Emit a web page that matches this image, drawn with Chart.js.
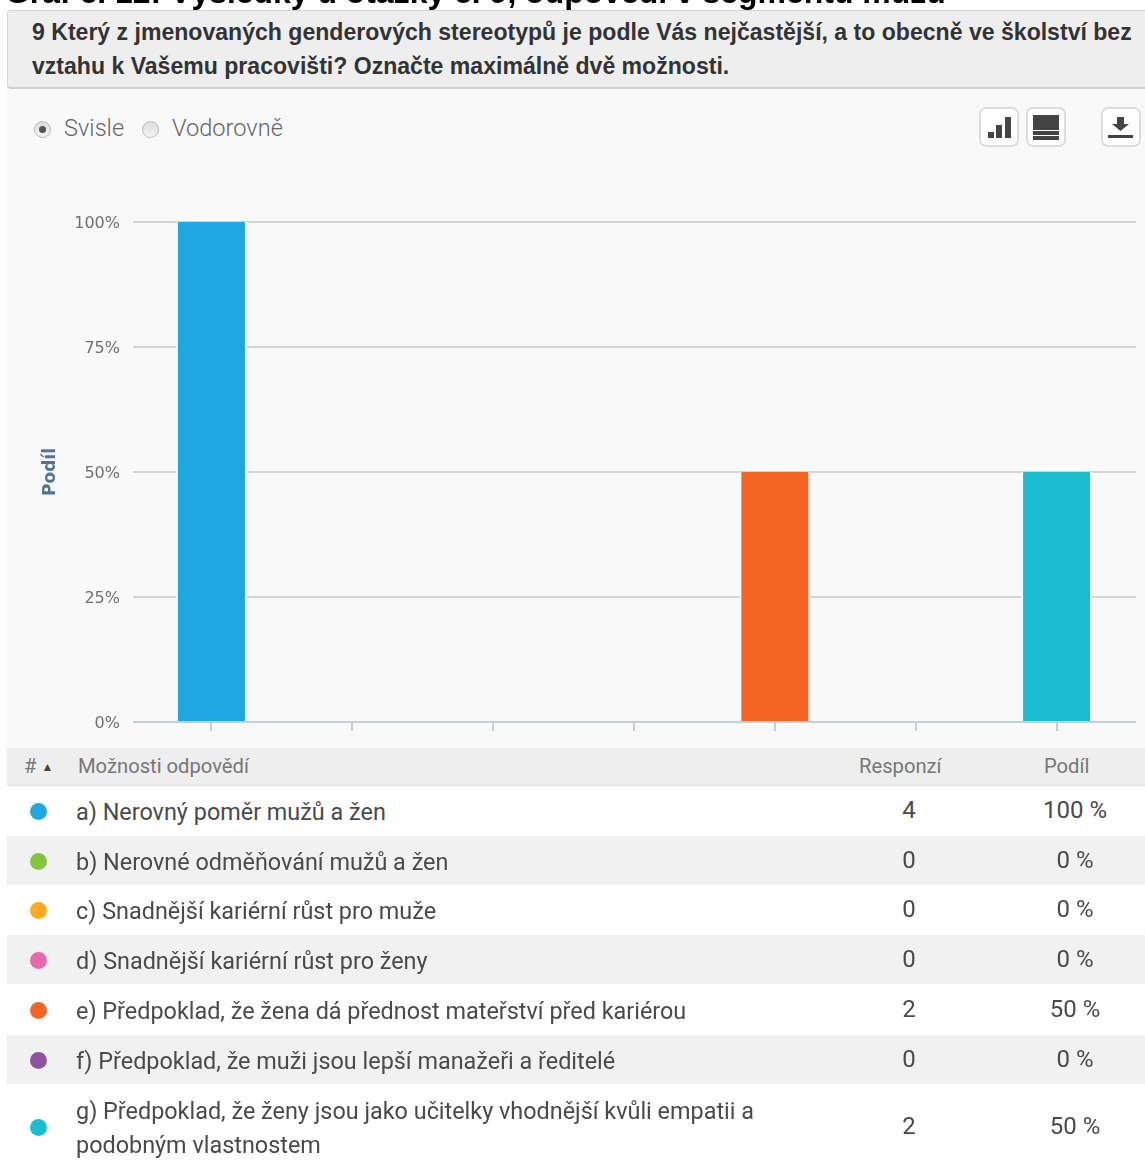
<!DOCTYPE html>
<html>
<head>
<meta charset="utf-8">
<script src="https://cdn.jsdelivr.net/npm/chart.js@4/dist/chart.umd.min.js"></script>
<style>
html, body { margin: 0; padding: 0; background: #fff; }
body { width: 1145px; height: 1160px; overflow: hidden; position: relative; font-family: Roboto, sans-serif; color: #444; }
#page { position: absolute; left: 0; top: 0; width: 1145px; height: 1160px; overflow: hidden; filter: blur(0.4px); }
.abs { position: absolute; white-space: nowrap; }
#pageTitle { left: 5px; top: -26px; font: bold 31.95px "Liberation Sans", sans-serif; color: #000; }
#questionBox { left: 7px; top: 10px; width: 1138px; height: 79px; box-sizing: border-box; background: #eee; border: 1px solid #d5d5d5; border-right: 0; border-bottom: 2px solid #d0d0d0; border-radius: 4px 0 0 4px; }
#question { left: 32px; top: 15px; font: bold 23.07px/34px "Liberation Sans", sans-serif; color: #333; }
#panel { left: 7px; top: 89px; width: 1138px; height: 659px; background: #f9f9f9; }
.radio { width: 17px; height: 17px; border-radius: 50%; box-sizing: border-box; border: 1px solid #bbb; background: linear-gradient(#ddd, #f4f4f4); top: 121px; }
.radio.on::after { content: ""; position: absolute; left: 4px; top: 4px; width: 7px; height: 7px; border-radius: 50%; background: #555; }
.radioLabel { top: 114px; font-size: 23.6px; font-weight: 300; color: #666; }
.btn { top: 107px; width: 40px; height: 40px; box-sizing: border-box; background: #fff; border: 2px solid #ddd; border-radius: 7px; }
.btn svg { position: absolute; left: -2px; top: -2px; }
#chartWrap { left: 0; top: 150px; width: 1145px; height: 600px; }
#tableHead { left: 7px; top: 748px; width: 1138px; height: 38px; background: #eee; border-bottom: 1px solid #ddd; box-sizing: border-box; }
.headCell { top: 754px; font-size: 20.2px; color: #777; }
.row { left: 7px; width: 1138px; }
.dot { width: 17px; height: 17px; border-radius: 50%; left: 30px; }
.rowText { left: 76px; font-size: 23.4px; line-height: 34px; color: #4a4a4a; }
.num { font-size: 24px; line-height: 34px; text-align: center; color: #4a4a4a; }
</style>
</head>
<body>
<div id="page">
<div class="abs" id="pageTitle">Graf č. 12: Výsledky u otázky č. 9, odpovědi v segmentu mužů</div>
<div class="abs" id="questionBox"></div>
<div class="abs" id="question">9 Který z jmenovaných genderových stereotypů je podle Vás nejčastější, a to obecně ve školství bez<br>vztahu k Vašemu pracovišti? Označte maximálně dvě možnosti.</div>
<div class="abs" id="panel"></div>

<div class="abs radio on" style="left:34px"></div>
<div class="abs radioLabel" style="left:64px">Svisle</div>
<div class="abs radio" style="left:142px"></div>
<div class="abs radioLabel" style="left:172px">Vodorovně</div>

<div class="abs btn" style="left:979px"><svg width="40" height="40"><g fill="#444"><rect x="9" y="25" width="6" height="6"/><rect x="17" y="18" width="6" height="13"/><rect x="26" y="10" width="6" height="21"/></g></svg></div>
<div class="abs btn" style="left:1026px"><svg width="40" height="40"><g fill="#444"><rect x="7" y="8" width="26" height="15"/><rect x="7" y="24" width="26" height="4"/><rect x="7" y="29" width="26" height="4"/></g></svg></div>
<div class="abs btn" style="left:1101px"><svg width="40" height="40"><g fill="#444"><path d="M16 10h7v7h5l-8.500 7-8.500-7h5z"/><rect x="7" y="28" width="25" height="3"/></g></svg></div>

<div class="abs" id="chartWrap"><canvas id="myChart"></canvas></div>

<div class="abs" id="tableHead"></div>
<div class="abs headCell" style="left:24px"># <span style="font-size:12px;vertical-align:2px;color:#444">▲</span></div>
<div class="abs headCell" style="left:78px">Možnosti odpovědí</div>
<div class="abs headCell" style="left:859px">Responzí</div>
<div class="abs headCell" style="left:1044px">Podíl</div>
<div id="rows"></div>
</div>

<script>
const categories = [
    "a) Nerovný poměr mužů a žen",
    "b) Nerovné odměňování mužů a žen",
    "c) Snadnější kariérní růst pro muže",
    "d) Snadnější kariérní růst pro ženy",
    "e) Předpoklad, že žena dá přednost mateřství před kariérou",
    "f) Předpoklad, že muži jsou lepší manažeři a ředitelé",
    "g) Předpoklad, že ženy jsou jako učitelky vhodnější kvůli empatii a<br>podobným vlastnostem"
];
const responses = [4, 0, 0, 0, 2, 0, 2];
const shares = [100, 0, 0, 0, 50, 0, 50];
const colors = ["#1fa8e1", "#86c440", "#fdaa1f", "#e868ae", "#f26522", "#8f54a0", "#1bbed0"];
const yTicks = [0, 25, 50, 75, 100];
const rowTops = [786, 836, 885, 935, 985, 1035, 1085];
const rowHeights = [49, 49, 49, 49, 49, 49, 83];

// table under the chart
let rowsHtml = "";
categories.forEach(function (cat, i) {
    let top = rowTops[i];
    let h = rowHeights[i];
    let bg = i % 2 == 1 ? "#f1f1f1" : "#fff";
    rowsHtml += '<div class="abs row" style="top:' + top + 'px;height:' + h + 'px;background:' + bg + '"></div>';
    rowsHtml += '<div class="abs dot" style="top:' + (top + h / 2 - 8) + 'px;background:' + colors[i] + '"></div>';
    rowsHtml += '<div class="abs rowText" style="top:' + (top + 9) + 'px">' + cat + '</div>';
    let numTop = top + h / 2 - 17.5;
    rowsHtml += '<div class="abs num" style="left:869px;width:80px;top:' + numTop + 'px">' + responses[i] + '</div>';
    rowsHtml += '<div class="abs num" style="left:1025px;width:100px;top:' + numTop + 'px">' + shares[i] + ' %</div>';
});
document.getElementById("rows").innerHTML = rowsHtml;

function gridColor(ctx) {
    return ctx.tick && ctx.tick.value == 0 ? "#c0d0e0" : "#d4d4d4";
}

const ctx = document.getElementById("myChart").getContext("2d");
new Chart(ctx, {
    type: "bar",
    data: {
        labels: categories,
        datasets: [{
            label: "Podíl",
            data: shares,
            backgroundColor: colors,
            borderColor: "#f9f9f9",
            borderWidth: { left: 2, right: 2, top: 0, bottom: 0 },
            barPercentage: 0.504,
            categoryPercentage: 1,
            yAxisID: "y"
        }]
    },
    options: {
        responsive: true,
        maintainAspectRatio: false,
        animation: false,
        layout: { padding: { top: 72, bottom: 0, left: 0, right: 0 } },
        plugins: { legend: { display: false }, tooltip: { enabled: false } },
        scales: {
            x: {
                ticks: { display: false },
                border: { display: false },
                grid: { offset: false, drawOnChartArea: false, color: "#c0d0e0", tickLength: 9, lineWidth: 2 },
                afterFit: function (scale) { scale.height = 28; }
            },
            y: {
                min: 0,
                max: 100,
                afterBuildTicks: function (scale) { scale.ticks = yTicks.map(function (v) { return { value: v }; }); },
                ticks: {
                    padding: 13,
                    labelOffset: 1.5,
                    color: "#707070",
                    font: { family: "DejaVu Sans", size: 16 },
                    callback: function (v) { return v + "%"; }
                },
                border: { display: false },
                grid: { color: gridColor, lineWidth: 2, tickLength: 8 },
                title: {
                    display: true,
                    text: "Podíl",
                    color: "#4d759e",
                    font: { family: "DejaVu Sans", size: 17, weight: "bold" },
                    padding: { top: 40, bottom: 0 }
                },
                afterFit: function (scale) { scale.width = 141; }
            },
            yRight: {
                position: "right",
                min: 0,
                max: 100,
                afterBuildTicks: function (scale) { scale.ticks = yTicks.map(function (v) { return { value: v }; }); },
                ticks: { display: false },
                border: { display: false },
                grid: { drawOnChartArea: false, color: gridColor, lineWidth: 2, tickLength: 9 },
                afterFit: function (scale) { scale.width = 18; }
            }
        }
    }
});
</script>
</body>
</html>
